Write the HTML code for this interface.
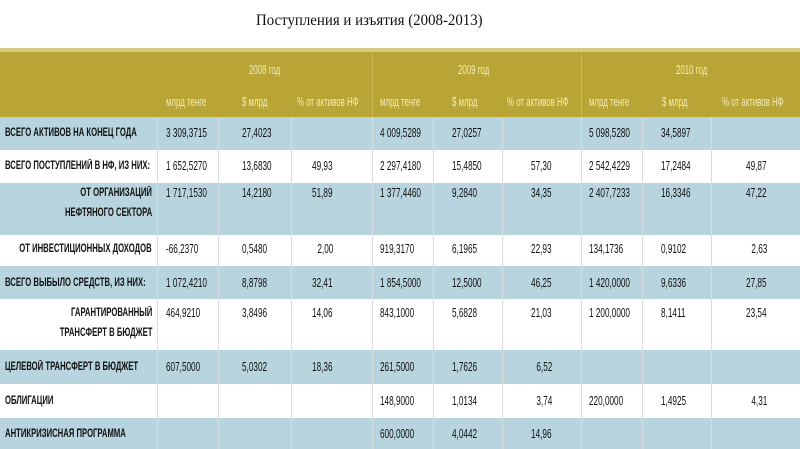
<!DOCTYPE html>
<html><head><meta charset="utf-8">
<style>
body{margin:0;width:800px;height:449px;background:#fff;position:relative;overflow:hidden;font-family:"Liberation Sans",sans-serif;}
.a{position:absolute;}
.t{position:absolute;height:14px;line-height:14px;font-size:13px;color:#111;white-space:nowrap;transform:scaleX(.63);transform-origin:left center;}
.r{transform-origin:right center;text-align:right;}
.l{font-weight:bold;font-size:11.5px;transform:scaleX(.67);}
.h{color:#f3ebb8;font-size:12.5px;}
.v{position:absolute;width:1px;top:117px;height:332px;background:#d7dde0;}
.vh{position:absolute;width:1px;top:85px;height:32px;background:#c9b552;}
</style></head><body>
<div class="a" style="left:256px;top:12px;font-family:'Liberation Serif',serif;font-size:16px;color:#111;transform:scaleX(.93);transform-origin:left;white-space:nowrap">Поступления и изъятия (2008-2013)</div>

<div class="a" style="left:0;top:48px;width:800px;height:4px;background:#d8cb7e"></div>
<div class="a" style="left:0;top:52px;width:800px;height:65px;background:#b9a535"></div>
<div class="a" style="left:0;top:117px;width:800px;height:33px;background:#b7d4df"></div>
<div class="a" style="left:0;top:183px;width:800px;height:52px;background:#b7d4df"></div>
<div class="a" style="left:0;top:266px;width:800px;height:33px;background:#b7d4df"></div>
<div class="a" style="left:0;top:350px;width:800px;height:34px;background:#b7d4df"></div>
<div class="a" style="left:0;top:418px;width:800px;height:31px;background:#b7d4df"></div>

<div class="v" style="left:157px"></div><div class="v" style="left:218px"></div><div class="v" style="left:291px"></div>
<div class="v" style="left:372px"></div><div class="v" style="left:433px"></div><div class="v" style="left:502px"></div>
<div class="v" style="left:581px"></div><div class="v" style="left:642px"></div><div class="v" style="left:711px"></div>
<div class="vh" style="left:372px;top:52px;height:65px"></div><div class="vh" style="left:581px;top:52px;height:65px"></div>

<div class="t h" style="left:249px;top:63px">2008 год</div>
<div class="t h" style="left:458px;top:63px">2009 год</div>
<div class="t h" style="left:676px;top:63px">2010 год</div>
<div class="t h" style="left:166px;top:95px">млрд тенге</div>
<div class="t h" style="left:242px;top:95px">$ млрд</div>
<div class="t h" style="left:297px;top:95px">% от активов НФ</div>
<div class="t h" style="left:380px;top:95px">млрд тенге</div>
<div class="t h" style="left:452px;top:95px">$ млрд</div>
<div class="t h" style="left:507px;top:95px">% от активов НФ</div>
<div class="t h" style="left:589px;top:95px">млрд тенге</div>
<div class="t h" style="left:662px;top:95px">$ млрд</div>
<div class="t h" style="left:722px;top:95px">% от активов НФ</div>

<div class="t l" style="left:5px;top:126px">ВСЕГО АКТИВОВ НА КОНЕЦ ГОДА</div>
<div class="t l" style="left:5px;top:159px">ВСЕГО ПОСТУПЛЕНИЙ В НФ, ИЗ НИХ:</div>
<div class="t l r" style="right:648px;top:186px">ОТ ОРГАНИЗАЦИЙ</div>
<div class="t l r" style="right:648px;top:206px">НЕФТЯНОГО СЕКТОРА</div>
<div class="t l r" style="right:648px;top:242px">ОТ ИНВЕСТИЦИОННЫХ ДОХОДОВ</div>
<div class="t l" style="left:5px;top:276px">ВСЕГО ВЫБЫЛО СРЕДСТВ, ИЗ НИХ:</div>
<div class="t l r" style="right:648px;top:306px">ГАРАНТИРОВАННЫЙ</div>
<div class="t l r" style="right:648px;top:326px">ТРАНСФЕРТ В БЮДЖЕТ</div>
<div class="t l" style="left:5px;top:360px">ЦЕЛЕВОЙ ТРАНСФЕРТ В БЮДЖЕТ</div>
<div class="t l" style="left:5px;top:394px">ОБЛИГАЦИИ</div>
<div class="t l" style="left:5px;top:427px">АНТИКРИЗИСНАЯ ПРОГРАММА</div>

<div class="t" style="left:166px;top:126px">3 309,3715</div><div class="t" style="left:242px;top:126px">27,4023</div>
<div class="t" style="left:380px;top:126px">4 009,5289</div><div class="t" style="left:452px;top:126px">27,0257</div>
<div class="t" style="left:589px;top:126px">5 098,5280</div><div class="t" style="left:661px;top:126px">34,5897</div>

<div class="t" style="left:166px;top:159px">1 652,5270</div><div class="t" style="left:242px;top:159px">13,6830</div><div class="t r" style="right:467px;top:159px">49,93</div>
<div class="t" style="left:380px;top:159px">2 297,4180</div><div class="t" style="left:452px;top:159px">15,4850</div><div class="t r" style="right:248px;top:159px">57,30</div>
<div class="t" style="left:589px;top:159px">2 542,4229</div><div class="t" style="left:661px;top:159px">17,2484</div><div class="t r" style="right:33px;top:159px">49,87</div>

<div class="t" style="left:166px;top:186px">1 717,1530</div><div class="t" style="left:242px;top:186px">14,2180</div><div class="t r" style="right:467px;top:186px">51,89</div>
<div class="t" style="left:380px;top:186px">1 377,4460</div><div class="t" style="left:452px;top:186px">9,2840</div><div class="t r" style="right:248px;top:186px">34,35</div>
<div class="t" style="left:589px;top:186px">2 407,7233</div><div class="t" style="left:661px;top:186px">16,3346</div><div class="t r" style="right:33px;top:186px">47,22</div>

<div class="t" style="left:166px;top:242px">-66,2370</div><div class="t" style="left:242px;top:242px">0,5480</div><div class="t r" style="right:467px;top:242px">2,00</div>
<div class="t" style="left:380px;top:242px">919,3170</div><div class="t" style="left:452px;top:242px">6,1965</div><div class="t r" style="right:248px;top:242px">22,93</div>
<div class="t" style="left:589px;top:242px">134,1736</div><div class="t" style="left:661px;top:242px">0,9102</div><div class="t r" style="right:33px;top:242px">2,63</div>

<div class="t" style="left:166px;top:276px">1 072,4210</div><div class="t" style="left:242px;top:276px">8,8798</div><div class="t r" style="right:467px;top:276px">32,41</div>
<div class="t" style="left:380px;top:276px">1 854,5000</div><div class="t" style="left:452px;top:276px">12,5000</div><div class="t r" style="right:248px;top:276px">46,25</div>
<div class="t" style="left:589px;top:276px">1 420,0000</div><div class="t" style="left:661px;top:276px">9,6336</div><div class="t r" style="right:33px;top:276px">27,85</div>

<div class="t" style="left:166px;top:306px">464,9210</div><div class="t" style="left:242px;top:306px">3,8496</div><div class="t r" style="right:467px;top:306px">14,06</div>
<div class="t" style="left:380px;top:306px">843,1000</div><div class="t" style="left:452px;top:306px">5,6828</div><div class="t r" style="right:248px;top:306px">21,03</div>
<div class="t" style="left:589px;top:306px">1 200,0000</div><div class="t" style="left:661px;top:306px">8,1411</div><div class="t r" style="right:33px;top:306px">23,54</div>

<div class="t" style="left:166px;top:360px">607,5000</div><div class="t" style="left:242px;top:360px">5,0302</div><div class="t r" style="right:467px;top:360px">18,36</div>
<div class="t" style="left:380px;top:360px">261,5000</div><div class="t" style="left:452px;top:360px">1,7626</div><div class="t r" style="right:248px;top:360px">6,52</div>

<div class="t" style="left:380px;top:394px">148,9000</div><div class="t" style="left:452px;top:394px">1,0134</div><div class="t r" style="right:248px;top:394px">3,74</div>
<div class="t" style="left:589px;top:394px">220,0000</div><div class="t" style="left:661px;top:394px">1,4925</div><div class="t r" style="right:33px;top:394px">4,31</div>

<div class="t" style="left:380px;top:427px">600,0000</div><div class="t" style="left:452px;top:427px">4,0442</div><div class="t r" style="right:248px;top:427px">14,96</div>
</body></html>
